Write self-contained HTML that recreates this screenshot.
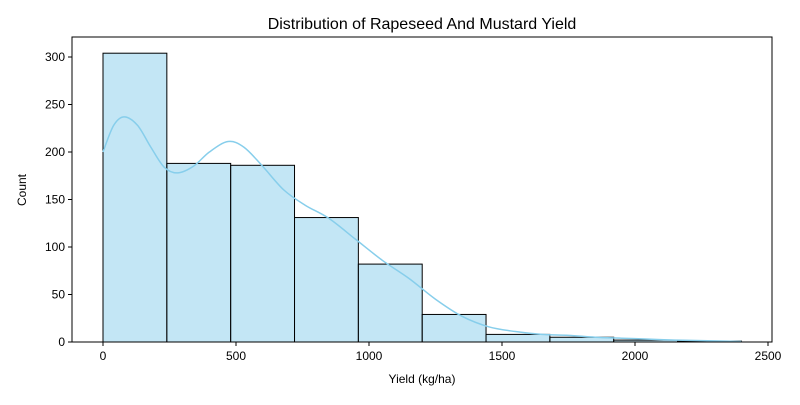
<!DOCTYPE html>
<html><head><meta charset="utf-8"><style>
body{margin:0;background:#fff;width:800px;height:400px;overflow:hidden}
svg text{font-family:"Liberation Sans","DejaVu Sans",sans-serif;fill:#000}
</style></head><body>
<svg id="chart" width="800" height="400">
<text x="422" y="29" font-size="16" text-anchor="middle">Distribution of Rapeseed And Mustard Yield</text>
<text x="422" y="383" font-size="12" text-anchor="middle">Yield (kg/ha)</text>
<text x="26" y="190" font-size="12" text-anchor="middle" transform="rotate(-90 26 190)">Count</text>
<g id="bars"></g><g id="kde"></g><g id="axes"></g>
</svg>
<script>
const binEdges=[0,240,480,720,960,1200,1440,1680,1920,2160,2400];
const counts=[304,188,186,131,82,29,8,5,2,1];
const kdeX=[0,40,80,130,180,230,280,340,400,470,530,600,680,760,850,950,1050,1150,1250,1350,1450,1550,1650,1750,1850,1950,2050,2150,2250,2400];
const kdeY=[200,228,237,228,205,184,178,185,200,211,205,185,160,144,130,108,86,67,45,27,16,11,8,7,5,4,3,2,1.5,0.5];
const xTicks=[0,500,1000,1500,2000,2500];
const yTicks=[0,50,100,150,200,250,300];
const NS="http://www.w3.org/2000/svg";
const L=72,R=772,T=37,B=342;
const xs=v=>103+v*0.266;
const ys=v=>342-v*0.95;
function mk(t,a,p){const e=document.createElementNS(NS,t);for(const k in a)e.setAttribute(k,a[k]);p.appendChild(e);return e;}
const bars=document.getElementById('bars');
counts.forEach((c,i)=>{
 const x0=xs(binEdges[i]),x1=xs(binEdges[i+1]);
 const r=mk('rect',{x:x0,y:ys(c),width:x1-x0,height:ys(0)-ys(c),fill:'rgba(135,206,235,0.5)',stroke:'#000','stroke-width':1},bars);
 
 
});
const kde=document.getElementById('kde');
const pts=kdeX.map((x,i)=>[xs(x),ys(kdeY[i])]);
let d='M'+pts[0][0]+' '+pts[0][1];
for(let i=0;i<pts.length-1;i++){
 const p0=pts[Math.max(0,i-1)],p1=pts[i],p2=pts[i+1],p3=pts[Math.min(pts.length-1,i+2)];
 const c1=[p1[0]+(p2[0]-p0[0])/6,p1[1]+(p2[1]-p0[1])/6];
 const c2=[p2[0]-(p3[0]-p1[0])/6,p2[1]-(p3[1]-p1[1])/6];
 d+=` C${c1[0]} ${c1[1]} ${c2[0]} ${c2[1]} ${p2[0]} ${p2[1]}`;
}
const p=mk('path',{d:d,fill:'none',stroke:'#87ceeb','stroke-width':1.5},kde);


const ax=document.getElementById('axes');
const fr=mk('rect',{x:L,y:T,width:R-L,height:B-T,fill:'none',stroke:'#000','stroke-width':1},ax);


xTicks.forEach(v=>{
 const x=xs(v);
 mk('line',{x1:x,x2:x,y1:B,y2:B+4,stroke:'#000'},ax);
 const t=mk('text',{x:x,y:B+18,'font-size':12,'text-anchor':'middle'},ax);t.textContent=v;
 
 
});
yTicks.forEach(v=>{
 const y=ys(v);
 mk('line',{x1:L-4,x2:L,y1:y,y2:y,stroke:'#000'},ax);
 const t=mk('text',{x:L-7,y:y+4,'font-size':12,'text-anchor':'end'},ax);t.textContent=v;
 
 
});
</script>
</body></html>
